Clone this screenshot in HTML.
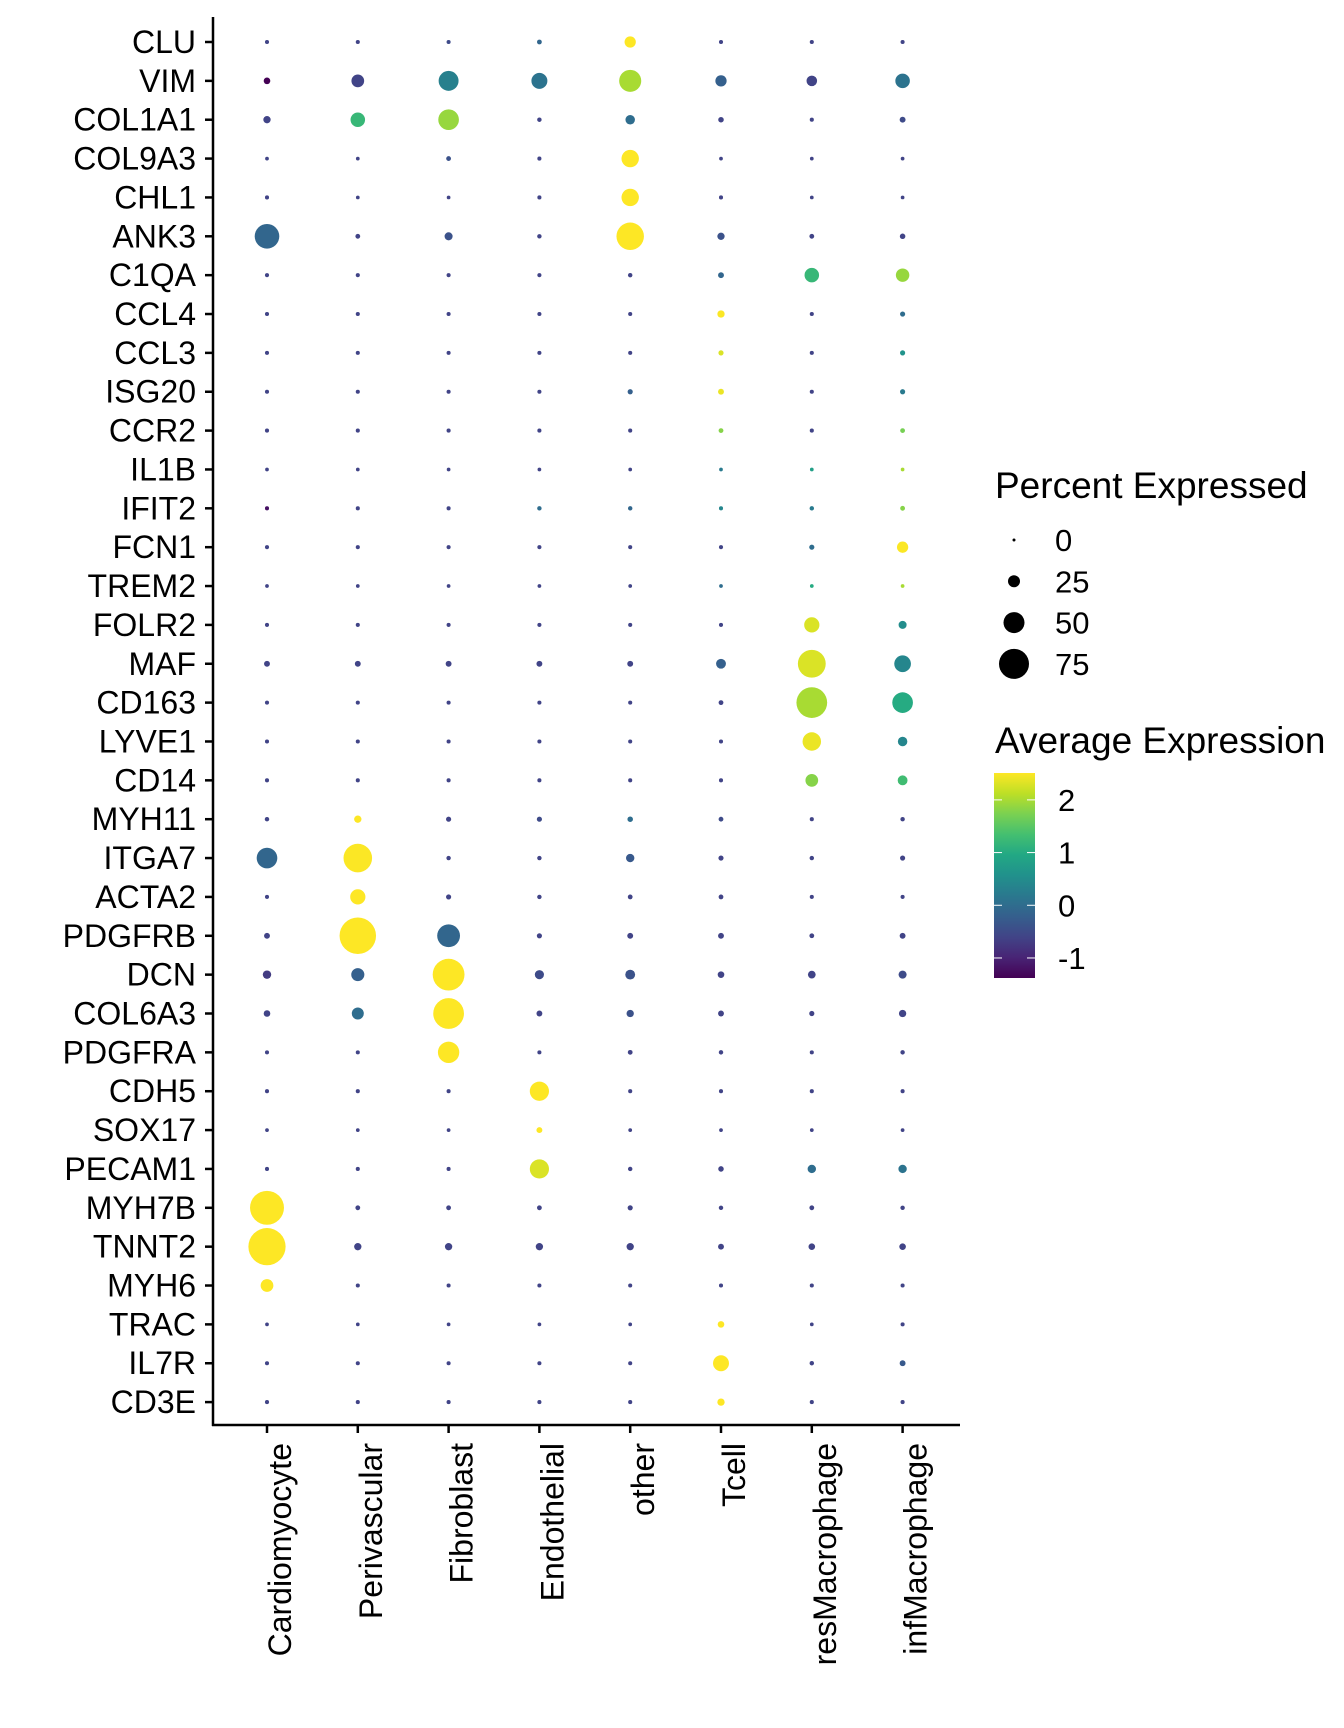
<!DOCTYPE html>
<html><head><meta charset="utf-8"><style>
html,body{margin:0;padding:0;background:#fff;}
svg{display:block;font-family:"Liberation Sans",Arial,sans-serif;}
</style></head><body>
<svg id="chart" width="1344" height="1728" viewBox="0 0 1344 1728" xmlns="http://www.w3.org/2000/svg">
<defs>
<linearGradient id="vir" x1="0" y1="1" x2="0" y2="0">
<stop offset="0" stop-color="#440154"/><stop offset="0.1" stop-color="#482475"/><stop offset="0.2" stop-color="#414487"/><stop offset="0.3" stop-color="#355f8d"/><stop offset="0.4" stop-color="#2a788e"/><stop offset="0.5" stop-color="#21918c"/><stop offset="0.6" stop-color="#22a884"/><stop offset="0.7" stop-color="#44bf70"/><stop offset="0.8" stop-color="#7ad151"/><stop offset="0.9" stop-color="#bddf26"/><stop offset="1" stop-color="#fde725"/>
</linearGradient>
</defs>
<g id="plot"></g>
<g id="legend"></g>
</svg>
<script>
const genes = ["CLU","VIM","COL1A1","COL9A3","CHL1","ANK3","C1QA","CCL4","CCL3","ISG20","CCR2","IL1B","IFIT2","FCN1","TREM2","FOLR2","MAF","CD163","LYVE1","CD14","MYH11","ITGA7","ACTA2","PDGFRB","DCN","COL6A3","PDGFRA","CDH5","SOX17","PECAM1","MYH7B","TNNT2","MYH6","TRAC","IL7R","CD3E"];
const cellTypes = ["Cardiomyocyte","Perivascular","Fibroblast","Endothelial","other","Tcell","resMacrophage","infMacrophage"];
const pctExpressed = [
[3,3,3,5,23,3,3,3],
[10,27,47,36,53,23,21,32],
[12,32,49,4,18,7,3,8],
[2,2,5,3,40,2,2,2],
[3,2,2,3,40,3,2,2],
[60,5,14,4,68,12,5,7],
[3,3,3,3,4,8,32,29],
[3,3,3,3,3,12,3,6],
[3,3,3,3,3,6,3,6],
[3,3,3,3,6,8,3,6],
[3,3,3,3,3,5,3,5],
[2,2,2,2,2,2,2,2],
[3,3,3,4,4,3,4,5],
[3,3,3,3,3,3,6,23],
[2,2,2,2,2,2,2,2],
[3,3,3,3,3,3,34,14],
[8,8,8,8,8,19,69,38],
[3,3,3,3,3,5,77,49],
[3,3,3,3,3,3,43,18],
[3,3,3,3,3,3,27,19],
[4,12,6,6,7,5,3,4],
[49,71,4,4,15,6,4,6],
[3,34,6,4,5,5,3,3],
[8,93,55,6,8,8,5,8],
[15,28,80,17,19,10,13,14],
[10,25,77,8,12,8,6,12],
[3,3,51,3,5,4,3,4],
[3,3,3,45,3,3,3,3],
[2,2,2,8,2,2,2,2],
[3,3,3,45,4,7,15,15],
[86,5,5,5,6,4,5,4],
[95,12,12,12,12,8,10,10],
[27,3,3,3,3,3,3,3],
[2,2,2,2,2,10,2,3],
[3,3,3,3,3,36,4,8],
[3,3,3,3,3,12,3,3]
];
const avgExpression = [
[-0.6,-0.6,-0.5,-0.1,2.6,-0.6,-0.6,-0.6],
[-1.4,-0.6,0.3,0.1,2.0,-0.2,-0.6,0.1],
[-0.6,1.2,1.9,-0.6,0.0,-0.6,-0.6,-0.5],
[-0.6,-0.6,-0.4,-0.6,2.6,-0.6,-0.6,-0.6],
[-0.6,-0.6,-0.6,-0.6,2.6,-0.6,-0.6,-0.6],
[-0.1,-0.6,-0.4,-0.6,2.6,-0.4,-0.6,-0.6],
[-0.6,-0.6,-0.6,-0.6,-0.6,-0.1,1.2,1.9],
[-0.6,-0.6,-0.6,-0.6,-0.6,2.5,-0.6,0.0],
[-0.6,-0.6,-0.6,-0.6,-0.6,2.3,-0.6,0.6],
[-0.6,-0.6,-0.6,-0.6,-0.2,2.4,-0.6,0.2],
[-0.6,-0.6,-0.6,-0.6,-0.6,1.8,-0.6,1.7],
[-0.6,-0.6,-0.6,-0.6,-0.6,0.2,0.8,2.0],
[-1.2,-0.6,-0.6,0.0,-0.1,0.4,0.2,1.8],
[-0.6,-0.6,-0.6,-0.6,-0.6,-0.6,0.0,2.5],
[-0.6,-0.6,-0.6,-0.6,-0.6,0.0,1.0,2.0],
[-0.6,-0.6,-0.6,-0.6,-0.6,-0.6,2.3,0.5],
[-0.6,-0.6,-0.6,-0.6,-0.6,-0.2,2.3,0.4],
[-0.6,-0.6,-0.6,-0.6,-0.6,-0.6,2.0,1.0],
[-0.6,-0.6,-0.6,-0.6,-0.6,-0.6,2.4,0.4],
[-0.6,-0.6,-0.6,-0.6,-0.6,-0.6,1.8,1.3],
[-0.6,2.6,-0.6,-0.5,0.0,-0.5,-0.6,-0.6],
[-0.1,2.5,-0.6,-0.6,-0.3,-0.6,-0.6,-0.6],
[-0.6,2.6,-0.6,-0.6,-0.6,-0.6,-0.6,-0.6],
[-0.6,2.6,-0.1,-0.6,-0.6,-0.6,-0.6,-0.6],
[-0.7,-0.2,2.6,-0.5,-0.4,-0.6,-0.6,-0.5],
[-0.6,0.0,2.6,-0.6,-0.4,-0.6,-0.6,-0.6],
[-0.6,-0.6,2.6,-0.6,-0.6,-0.6,-0.6,-0.6],
[-0.6,-0.6,-0.6,2.6,-0.6,-0.6,-0.6,-0.6],
[-0.6,-0.6,-0.6,2.6,-0.6,-0.6,-0.6,-0.6],
[-0.6,-0.6,-0.6,2.3,-0.6,-0.6,0.0,0.1],
[2.6,-0.6,-0.6,-0.6,-0.6,-0.6,-0.6,-0.6],
[2.6,-0.6,-0.6,-0.6,-0.6,-0.6,-0.6,-0.6],
[2.6,-0.6,-0.6,-0.6,-0.6,-0.6,-0.6,-0.6],
[-0.6,-0.6,-0.6,-0.6,-0.6,2.6,-0.6,-0.6],
[-0.6,-0.6,-0.6,-0.6,-0.6,2.6,-0.6,-0.3],
[-0.6,-0.6,-0.6,-0.6,-0.6,2.6,-0.6,-0.6]
];
const sizeLegendValues = [0,25,50,75];
const colorTickValues = [2,1,0,-1];

const NS="http://www.w3.org/2000/svg";
function mk(tag,attrs,parent){const e=document.createElementNS(NS,tag);for(const k in attrs)e.setAttribute(k,attrs[k]);parent.appendChild(e);return e;}
const vir=["#440154","#482475","#414487","#355f8d","#2a788e","#21918c","#22a884","#44bf70","#7ad151","#bddf26","#fde725"];
function hex(h){return [parseInt(h.slice(1,3),16),parseInt(h.slice(3,5),16),parseInt(h.slice(5,7),16)];}
const cMin=-1.38,cMax=2.51;
function color(v){let t=(v-cMin)/(cMax-cMin);t=Math.max(0,Math.min(1,t));const s=t*10,i=Math.min(9,Math.floor(s)),f=s-i;const a=hex(vir[i]),b=hex(vir[i+1]);return "rgb("+a.map((x,k)=>Math.round(x+(b[k]-x)*f)).join(",")+")";}
function xPos(i){return 267+i*90.8;}
function yPos(j){return 42+j*38.86;}
function rad(p){return 1.5+0.18*p;}

const plot=document.getElementById('plot');
let ax=mk('line',{x1:213,y1:17,x2:213,y2:1426,stroke:'#000','stroke-width':2.5},plot);


ax=mk('line',{x1:212,y1:1425,x2:960,y2:1425,stroke:'#000','stroke-width':2.5},plot);


genes.forEach((g,j)=>{
  const y=yPos(j);
  const t=mk('line',{x1:205,y1:y,x2:213,y2:y,stroke:'#000','stroke-width':2.5},plot);
  
  
  const tx=mk('text',{x:196,y:y+11,'text-anchor':'end','font-size':32,fill:'#000'},plot);
  tx.textContent=g;
  
  
});
cellTypes.forEach((c,i)=>{
  const x=xPos(i);
  const t=mk('line',{x1:x,y1:1425,x2:x,y2:1433,stroke:'#000','stroke-width':2.5},plot);
  
  
  const tx=mk('text',{transform:'translate('+(x+24)+',1443) rotate(-90)','text-anchor':'end','font-size':32,fill:'#000'},plot);
  tx.textContent=c;
  
  
});
genes.forEach((g,j)=>{
  cellTypes.forEach((c,i)=>{
    const d=mk('circle',{cx:xPos(i),cy:yPos(j),r:rad(pctExpressed[j][i]),fill:color(avgExpression[j][i])},plot);
    
    
  });
});
const lg=document.getElementById('legend');
let tt=mk('text',{x:995,y:498,'font-size':37,fill:'#000'},lg);tt.textContent='Percent Expressed';


sizeLegendValues.forEach((v,k)=>{
  const y=540+k*41.3;
  const c=mk('circle',{cx:1014,cy:y,r:rad(v),fill:'#000'},lg);
  
  
  const t=mk('text',{x:1055,y:y+11,'font-size':31,fill:'#000'},lg);t.textContent=v;
  
  
});
tt=mk('text',{x:995,y:753,'font-size':37,fill:'#000'},lg);tt.textContent='Average Expression';


const barTop=773,barH=205;
const bar=mk('rect',{x:994,y:barTop,width:41,height:barH,fill:'url(#vir)'},lg);


function cy(v){return barTop+(cMax-v)/(cMax-cMin)*barH;}
colorTickValues.forEach(v=>{
  const y=cy(v);
  let l=mk('line',{x1:994,y1:y,x2:1002,y2:y,stroke:'#fff','stroke-width':1},lg);
  
  
  l=mk('line',{x1:1027,y1:y,x2:1035,y2:y,stroke:'#fff','stroke-width':1},lg);
  
  
  const t=mk('text',{x:1058,y:y+11,'font-size':31,fill:'#000'},lg);t.textContent=v;
  
  
});
</script>
</body></html>
